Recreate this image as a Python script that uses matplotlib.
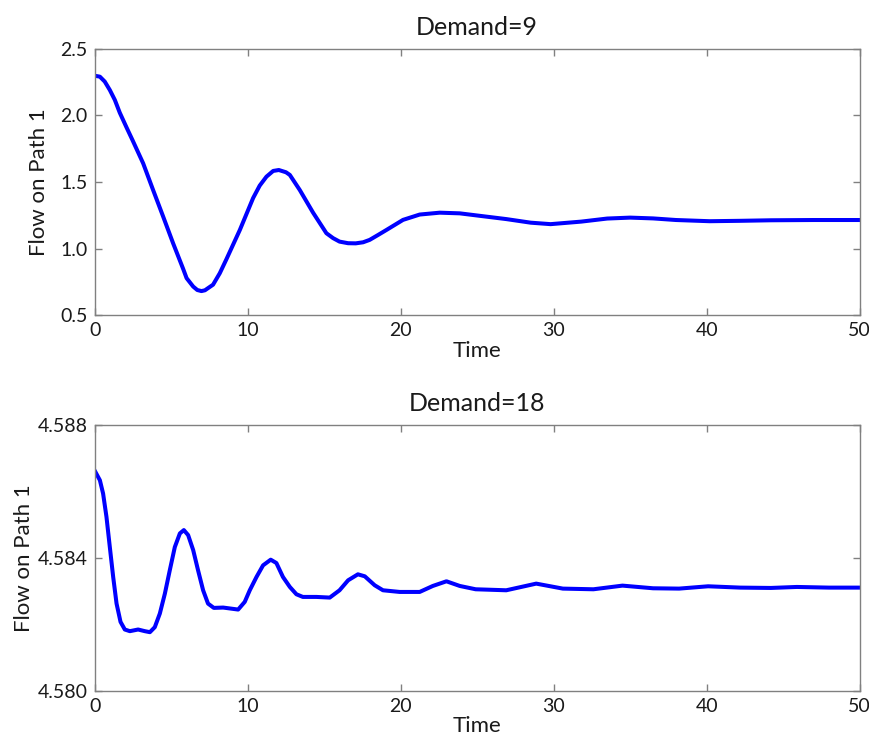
import matplotlib.pyplot as plt

# Demand = 9, flow on path 1
t_d9 = [0.0, 0.33, 0.65, 0.98, 1.31, 1.63, 2.07, 2.46, 3.16, 3.81, 4.47, 5.12,
        5.77, 6.0, 6.43, 6.7, 6.97, 7.2, 7.4, 7.73, 8.17, 8.6, 9.48, 10.35,
        10.78, 11.22, 11.66, 12.03, 12.5, 12.75, 13.4, 14.27, 15.14, 15.58,
        16.0, 16.56, 17.06, 17.54, 17.97, 18.52, 19.06, 20.15, 21.24, 22.55,
        23.86, 25.2, 26.9, 28.5, 29.8, 31.8, 33.5, 35.0, 36.5, 38.0, 40.2,
        42.2, 44.2, 47.0, 50.0]
flow_d9 = [2.297, 2.29, 2.253, 2.19, 2.115, 2.02, 1.91, 1.815, 1.64, 1.44,
           1.24, 1.04, 0.85, 0.779, 0.716, 0.69, 0.682, 0.688, 0.704, 0.73,
           0.816, 0.92, 1.14, 1.38, 1.473, 1.54, 1.583, 1.59, 1.573, 1.553,
           1.44, 1.27, 1.116, 1.079, 1.053, 1.041, 1.04, 1.048, 1.066, 1.103,
           1.14, 1.216, 1.256, 1.27, 1.265, 1.246, 1.222, 1.195, 1.184, 1.203,
           1.226, 1.233, 1.227, 1.215, 1.206, 1.209, 1.213, 1.215, 1.215]

# Demand = 18, flow on path 1
t_d18 = [0.0, 0.33, 0.54, 0.76, 0.98, 1.2, 1.42, 1.68, 1.96, 2.29, 2.83, 3.27,
         3.6, 3.92, 4.25, 4.58, 4.9, 5.23, 5.56, 5.82, 6.1, 6.43, 6.75, 7.08,
         7.4, 7.78, 8.39, 9.37, 9.8, 10.13, 10.57, 11.0, 11.5, 11.87, 12.3,
         12.75, 13.18, 13.6, 14.49, 15.36, 16.0, 16.56, 17.2, 17.65, 18.3,
         18.84, 19.93, 21.24, 22.1, 22.99, 23.86, 24.9, 26.9, 28.86, 30.6,
         32.6, 34.5, 36.5, 38.2, 40.1, 42.2, 44.2, 45.9, 48.0, 50.0]
flow_d18 = [4.58662, 4.58634, 4.58594, 4.58524, 4.58433, 4.58343, 4.58263,
            4.58208, 4.58185, 4.58180, 4.58185, 4.58180, 4.58177, 4.58192,
            4.58233, 4.58293, 4.58363, 4.58433, 4.58474, 4.58484, 4.58469,
            4.58424, 4.58363, 4.58303, 4.58263, 4.58250, 4.58251, 4.58245,
            4.58268, 4.58303, 4.58343, 4.58378, 4.58395, 4.58385, 4.58343,
            4.58313, 4.58291, 4.58283, 4.58283, 4.58281, 4.58303, 4.58333,
            4.58351, 4.58345, 4.58318, 4.58303, 4.58298, 4.58298, 4.58316,
            4.58330, 4.58316, 4.58306, 4.58303, 4.58323, 4.58308, 4.58306,
            4.58317, 4.58309, 4.58308, 4.58315, 4.58311, 4.58310, 4.58313,
            4.58311, 4.58311]

x_ticks = [0, 10, 20, 30, 40, 50]
y_ticks_d9 = [0.5, 1.0, 1.5, 2.0, 2.5]
y_ticks_d18 = [4.580, 4.584, 4.588]

plt.rcParams['font.family'] = ['Lato', 'DejaVu Sans']

fig = plt.figure(figsize=(8.7, 7.42), dpi=100)
ax1 = fig.add_axes([0.109, 0.575, 0.879, 0.3594])
ax2 = fig.add_axes([0.109, 0.0687, 0.879, 0.3585])

panels = [
    (ax1, t_d9, flow_d9, y_ticks_d9, ['0.5', '1.0', '1.5', '2.0', '2.5'], 'Demand=9', 8),
    (ax2, t_d18, flow_d18, y_ticks_d18, ['4.580', '4.584', '4.588'], 'Demand=18', 3),
]

for ax, t, y, yt, ylab, title, lpad in panels:
    ax.plot(t, y, color='#0000ff', lw=2.9, solid_joinstyle='round')
    ax.set_xlim(0, 50)
    ax.set_ylim(yt[0], yt[-1])
    ax.set_xticks(x_ticks)
    ax.set_yticks(yt)
    ax.set_yticklabels(ylab)
    ax.tick_params(direction='in', length=5, width=1, color='#808080',
                   labelsize=14, top=True, right=True, pad=5, labelcolor='#1a1a1a')
    for s in ax.spines.values():
        s.set_color('#808080')
        s.set_linewidth(1.0)
    ax.set_xlabel('Time', fontsize=16, labelpad=1, color='#1a1a1a')
    ax.set_ylabel('Flow on Path 1', fontsize=16, labelpad=lpad, color='#1a1a1a')
    ax.set_title(title, fontsize=18, pad=10, color='#1a1a1a')

fig.savefig('out.png', dpi=100)
